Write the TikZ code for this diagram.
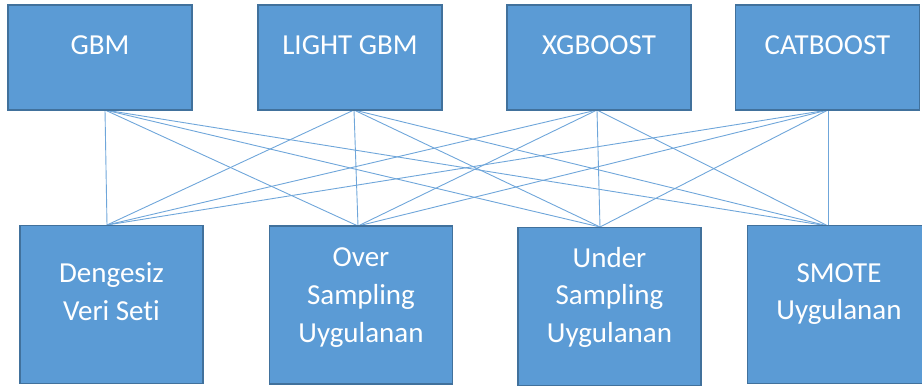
\documentclass[tikz,border=0pt]{standalone}
\usepackage{fontspec}
\setmainfont{Carlito}[Ligatures=NoCommon]
\definecolor{boxfill}{HTML}{5B9BD5}
\definecolor{boxline}{HTML}{41719C}
\definecolor{linkc}{HTML}{6FA6DA}
\begin{document}
\begin{tikzpicture}[x=1pt,y=-1pt,
  box/.style={draw=boxline,line width=1.6pt,fill=boxfill,rectangle,inner sep=0pt},
  topbox/.style={box,minimum width=184pt,minimum height=105pt},
  botbox/.style={box,minimum width=183pt,minimum height=158pt},
  lbl/.style={text=white,font=\fontsize{29}{38}\selectfont,align=center,anchor=base,inner sep=0pt},
  link/.style={draw=linkc,line width=0.9pt}]
\useasboundingbox (0,0) rectangle (922,390);
\begin{scope}
\clip (0,0) rectangle (922,390);
% attachment points
\coordinate (tA) at (105,110);
\coordinate (tB) at (354,110);
\coordinate (tC) at (597,110);
\coordinate (tD) at (828,110);
\coordinate (bA) at (107,225);
\coordinate (bB) at (358,226);
\coordinate (bC) at (600,227);
\coordinate (bD) at (828,226);
\foreach \t in {tA,tB,tC,tD}{
  \foreach \b in {bA,bB,bC,bD}{
    \draw[link] (\t) -- (\b);
  }
}
% top boxes
\node[topbox] (gbm) at (100,57.5) {};
\node[topbox] (lgbm) at (350,57.5) {};
\node[topbox] (xgb) at (599,57.5) {};
\node[topbox] (cat) at (827.5,57.5) {};
% bottom boxes
\node[botbox] (deng) at (111.5,304.5) {};
\node[botbox] (over) at (361,305) {};
\node[botbox] (under) at (609.5,306.5) {};
\node[botbox] (smote) at (839,304.5) {};
% labels (base = baseline of last line)
\node[lbl] (tgbm) at (100,55) {GBM};
\node[lbl] (tlgbm) at (350,55) {LIGHT GBM};
\node[lbl] (txgb) at (599,55) {XGBOOST};
\node[lbl] (tcat) at (827.5,55) {CATBOOST};
\node[lbl] (tdeng) at (111.5,321) {Dengesiz\\Veri Seti};
\node[lbl] (tover) at (361,342) {Over\\Sampling\\Uygulanan};
\node[lbl] (tunder) at (609.5,343) {Under\\Sampling\\Uygulanan};
\node[lbl] (tsmote) at (839,320) {SMOTE\\Uygulanan};
\end{scope}
\end{tikzpicture}
\end{document}
